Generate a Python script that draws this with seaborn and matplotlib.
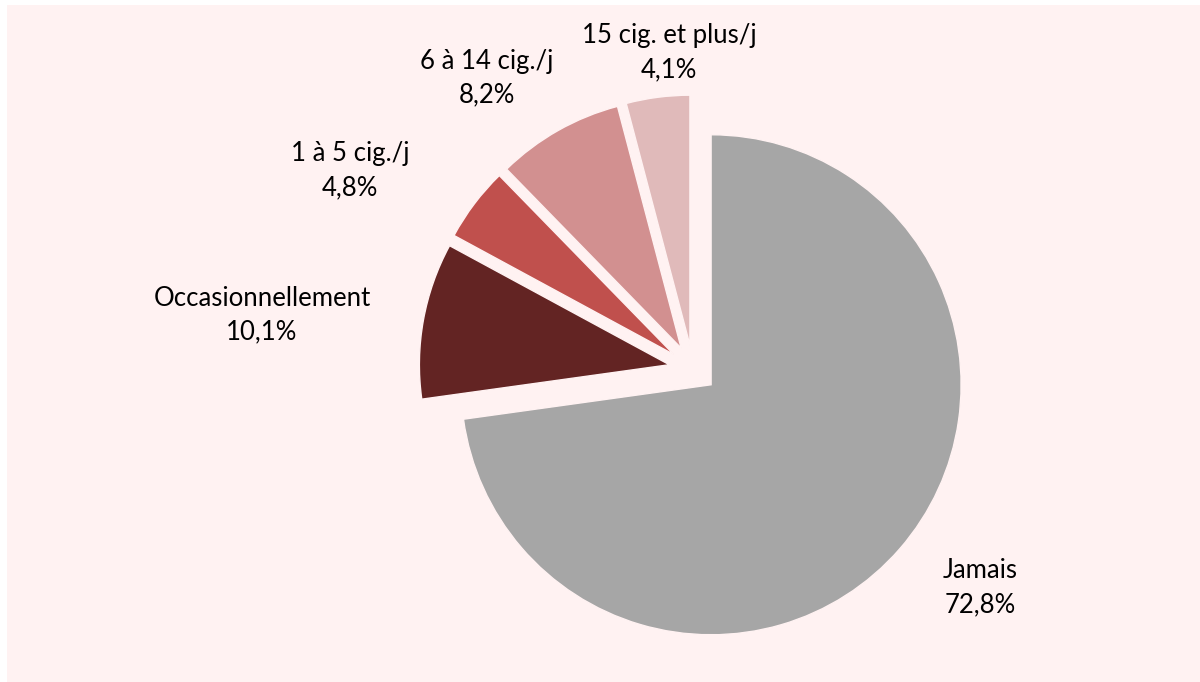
import seaborn as sns
import matplotlib.pyplot as plt
from matplotlib.patches import Rectangle

categories = ["Jamais", "Occasionnellement", "1 à 5 cig./j", "6 à 14 cig./j", "15 cig. et plus/j"]
values = [72.8, 10.1, 4.8, 8.2, 4.1]
value_labels = ["72,8%", "10,1%", "4,8%", "8,2%", "4,1%"]
colors = ["#A6A6A6", "#632423", "#C0504D", "#D29090", "#E0BABA"]

sns.set_theme(style="white")
plt.rcParams['font.family'] = ['Lato', 'DejaVu Sans']

bg = "#FFF2F2"
fig = plt.figure(figsize=(12, 6.82), dpi=100, facecolor="white")
fig.patches.append(Rectangle((7 / 1200, 0), 1 - 7 / 1200, 1 - 5 / 682,
                             transform=fig.transFigure, facecolor=bg,
                             edgecolor="none", zorder=-1))
ax = fig.add_axes([0, 0, 1, 1])
ax.set_facecolor("none")

ax.pie(values, colors=colors, startangle=90, counterclock=False,
       explode=[0.096] * len(values), radius=1,
       wedgeprops=dict(edgecolor=bg, linewidth=1))

# label anchor points (pie radius = 1, centre at 0,0)
label_pos = [(1.148, -0.876), (-1.724, 0.216), (-1.372, 0.792),
             (-0.824, 1.164), (-0.096, 1.264)]
for name, pct, (x, y) in zip(categories, value_labels, label_pos):
    ax.text(x, y, f"{name}\n{pct}", ha="center", va="center",
            fontsize=18.5, color="black", linespacing=1.45)

ax.set_xlim(-693 / 250, (1200 - 693) / 250)
ax.set_ylim(-(682 - 369) / 250, 369 / 250)
ax.set_aspect("equal")
ax.axis("off")

fig.savefig("out.png", dpi=100, facecolor="white")
